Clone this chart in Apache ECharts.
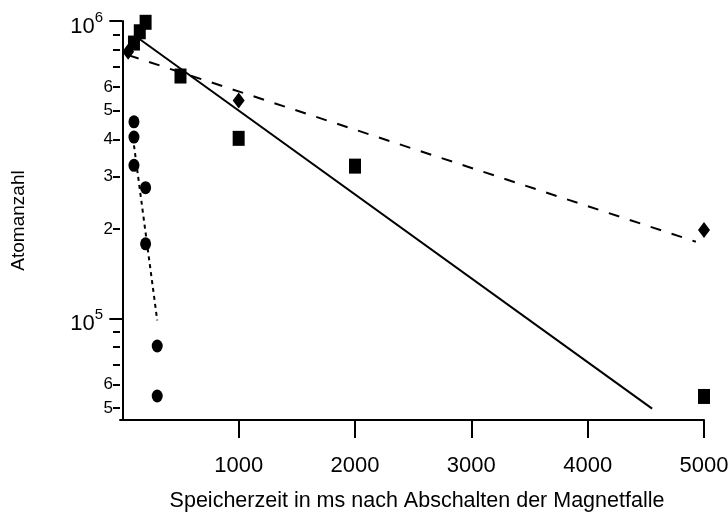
<!DOCTYPE html>
<html>
<head>
<meta charset="utf-8">
<script src="https://cdn.jsdelivr.net/npm/echarts@6/dist/echarts.min.js"></script>
<style>
  html, body { margin: 0; padding: 0; background: #fff; }
  #chart { width: 728px; height: 520px; }
</style>
</head>
<body>
<div id="chart"></div>
<script>
const FONT = '"Liberation Sans", Arial, Helvetica, sans-serif';

// Atom number after switching off the magnetic trap (storage time in ms)
const squareTimes = [100, 150, 200, 500, 1000, 2000, 5000];
const squareAtoms = [843000, 920000, 990000, 653000, 403000, 325000, 54600];

const diamondTimes = [50, 1000, 5000];
const diamondAtoms = [788000, 540000, 198000];

const circleTimes = [100, 100, 100, 200, 200, 300, 300];
const circleAtoms = [458000, 407000, 327000, 275000, 178000, 80700, 54800];

// Exponential fits: straight segments on the logarithmic axis
const fitSquareTimes = [150, 4554];
const fitSquareAtoms = [868000, 49700];
const fitDiamondTimes = [50, 4930];
const fitDiamondAtoms = [768000, 181000];
const fitCircleTimes = [100, 300];
const fitCircleAtoms = [382000, 98500];

// Axis ticks and labels
const xTicks = [1000, 2000, 3000, 4000, 5000];
const yDecades = [1e5, 1e6];
const yMinorTicks = [5e4, 6e4, 7e4, 8e4, 9e4, 2e5, 3e5, 4e5, 5e5, 6e5, 7e5, 8e5, 9e5];
const yMinorLabels = [5e4, 6e4, 2e5, 3e5, 4e5, 5e5, 6e5];

const X_MIN = -20, X_MAX = 5000;
const Y_MIN = 45500, Y_MAX = 1e6;

const pairs = (xs, ys) => xs.map((x, i) => [x, ys[i]]);
const black = '#000';

const chart = echarts.init(document.getElementById('chart'), null, { renderer: 'canvas' });

const logAxisBase = {
  type: 'log',
  logBase: 10,
  min: Y_MIN,
  max: Y_MAX,
  position: 'left',
  splitLine: { show: false },
  minorTick: { show: false },
  minorSplitLine: { show: false }
};

const markerStyle = { color: black, opacity: 1 };

chart.setOption({
  animation: false,
  backgroundColor: '#fff',
  grid: { left: 120, right: 24, top: 21, bottom: 100, outerBoundsMode: 'none', containLabel: false },
  xAxis: {
    type: 'value',
    min: X_MIN,
    max: X_MAX,
    name: 'Speicherzeit in ms nach Abschalten der Magnetfalle',
    nameLocation: 'middle',
    nameGap: 70,
    nameTextStyle: { fontFamily: FONT, fontSize: 21.5, color: black, padding: [0, 0, 0, 10] },
    axisLine: { show: true, lineStyle: { color: black, width: 2 } },
    axisTick: { show: true, customValues: xTicks, length: 18, lineStyle: { color: black, width: 2 } },
    axisLabel: {
      customValues: xTicks, margin: 35, fontFamily: FONT, fontSize: 22, color: black,
      formatter: v => String(v)
    },
    splitLine: { show: false }
  },
  yAxis: [
    Object.assign({}, logAxisBase, {
      name: 'Atomanzahl',
      nameLocation: 'middle',
      nameGap: 92,
      nameRotate: 90,
      nameTextStyle: { fontFamily: FONT, fontSize: 19, color: black },
      axisLine: { show: true, lineStyle: { color: black, width: 2 } },
      axisTick: { show: true, customValues: yDecades, length: 13, lineStyle: { color: black, width: 2 } },
      axisLabel: {
        customValues: yDecades,
        margin: 17,
        padding: [6, 0, 0, 0],
        formatter: v => '{b|10}{s|' + Math.round(Math.log10(v)) + '}',
        rich: {
          b: { fontFamily: FONT, fontSize: 22, color: black, verticalAlign: 'bottom' },
          s: { fontFamily: FONT, fontSize: 15, color: black, verticalAlign: 'bottom', padding: [0, 0, 12, 0] }
        }
      }
    }),
    Object.assign({}, logAxisBase, {
      axisLine: { show: false },
      axisTick: { show: true, customValues: yMinorTicks, length: 7, lineStyle: { color: black, width: 2 } },
      axisLabel: {
        customValues: yMinorLabels,
        margin: 7,
        fontFamily: FONT,
        fontSize: 17,
        color: black,
        formatter: v => String(Math.round(v / Math.pow(10, Math.floor(Math.log10(v) + 1e-9))))
      }
    })
  ],
  series: [
    {
      type: 'line', data: pairs(fitSquareTimes, fitSquareAtoms), showSymbol: false, symbol: 'none',
      lineStyle: { color: black, width: 2 }, z: 2, silent: true
    },
    {
      type: 'line', data: pairs(fitDiamondTimes, fitDiamondAtoms), showSymbol: false, symbol: 'none',
      lineStyle: { color: black, width: 2, type: [11, 11] }, z: 2, silent: true
    },
    {
      type: 'line', data: pairs(fitCircleTimes, fitCircleAtoms), showSymbol: false, symbol: 'none',
      lineStyle: { color: black, width: 2, type: [4, 4] }, z: 2, silent: true
    },
    {
      type: 'scatter', data: pairs(squareTimes, squareAtoms), symbol: 'rect', symbolSize: [12, 15],
      itemStyle: markerStyle, z: 3
    },
    {
      type: 'scatter', data: pairs(diamondTimes, diamondAtoms), symbol: 'diamond', symbolSize: [12, 16],
      itemStyle: markerStyle, z: 3
    },
    {
      type: 'scatter', data: pairs(circleTimes, circleAtoms), symbol: 'circle', symbolSize: [11, 13],
      itemStyle: markerStyle, z: 3
    }
  ]
});
</script>
</body>
</html>
